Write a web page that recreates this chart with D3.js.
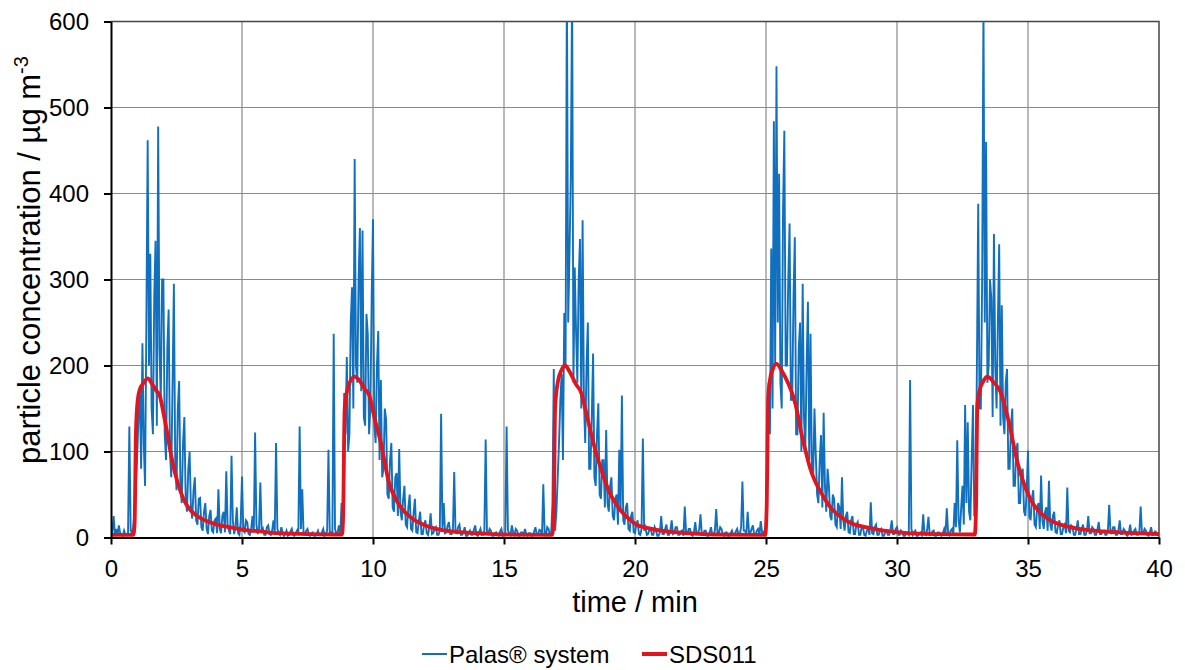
<!DOCTYPE html>
<html>
<head>
<meta charset="utf-8">
<script src="https://cdn.jsdelivr.net/npm/d3@7"></script>
<style>
  body { margin: 0; background: #fff; }
  svg { display: block; font-family: "Liberation Sans", Arial, sans-serif; }
</style>
</head>
<body>
<svg id="chart" width="1185" height="670"></svg>
<script>
// Palas readings, one every 0.05 min from 0 to 40 min (rows = one minute)
const palasStep = 0.05;
const palasValues = [
  3, 6, 25, 4, 10, 3, 14, 5, 4, 2, 8, 3, 3, 5, 129, 8, 5, 12, 30, 60,
  95, 140, 175, 80, 226, 110, 60, 250, 462, 200, 330, 150, 120, 280, 345, 130, 478, 220, 160, 300,
  300, 120, 90, 220, 265, 100, 70, 180, 295, 90, 55, 150, 182, 60, 40, 110, 140, 45, 30, 80,
  100, 35, 22, 55, 70, 20, 15, 45, 46, 12, 8, 30, 40, 10, 4, 25, 32, 8, 6, 20,
  22, 5, 56, 10, 5, 25, 30, 6, 77, 15, 8, 4, 95, 20, 4, 12, 35, 5, 3, 18,
  71, 8, 6, 20, 18, 4, 3, 10, 25, 6, 122, 15, 4, 10, 64, 6, 10, 3, 3, 12,
  14, 4, 3, 8, 20, 5, 110, 10, 5, 3, 12, 6, 2, 4, 8, 2, 3, 7, 10, 3,
  2, 5, 8, 3, 129, 10, 56, 4, 4, 8, 10, 3, 2, 5, 6, 2, 2, 4, 8, 3,
  3, 6, 10, 2, 4, 8, 102, 5, 6, 3, 237, 10, 4, 6, 14, 3, 40, 4, 168, 120,
  210, 100, 120, 250, 291, 150, 440, 200, 180, 300, 360, 170, 357, 140, 130, 260, 237, 120, 150, 280,
  370, 130, 110, 200, 240, 90, 183, 70, 80, 150, 137, 50, 45, 90, 110, 35, 30, 70, 75, 25,
  103, 30, 20, 45, 60, 15, 12, 35, 50, 10, 8, 28, 45, 6, 5, 20, 30, 4, 4, 15,
  20, 5, 3, 12, 28, 4, 5, 10, 12, 3, 3, 8, 144, 10, 40, 5, 6, 14, 18, 4,
  4, 8, 76, 6, 5, 12, 15, 3, 3, 6, 12, 2, 2, 5, 8, 3, 3, 9, 14, 3,
  2, 6, 10, 3, 3, 8, 114, 5, 4, 10, 8, 2, 2, 5, 6, 3, 2, 7, 10, 2,
  3, 5, 129, 8, 5, 3, 14, 6, 3, 10, 8, 2, 2, 6, 6, 3, 10, 4, 2, 5,
  5, 2, 2, 7, 12, 3, 3, 9, 8, 2, 62, 5, 3, 12, 10, 3, 4, 40, 196, 8,
  30, 70, 110, 160, 190, 90, 261, 200, 650, 250, 330, 420, 640, 180, 314, 240, 180, 300, 347, 150,
  369, 160, 110, 200, 250, 80, 80, 140, 214, 70, 60, 120, 156, 50, 45, 90, 90, 35, 125, 40,
  30, 60, 70, 25, 20, 45, 50, 15, 102, 30, 165, 20, 15, 35, 40, 10, 8, 25, 30, 6,
  5, 15, 20, 4, 3, 10, 115, 8, 12, 3, 4, 9, 10, 3, 3, 12, 8, 2, 2, 6,
  25, 4, 4, 10, 15, 3, 3, 8, 20, 4, 5, 12, 12, 3, 3, 7, 8, 2, 36, 5,
  4, 10, 10, 3, 2, 6, 18, 4, 5, 9, 27, 3, 3, 8, 8, 2, 2, 6, 12, 3,
  3, 8, 33, 5, 5, 12, 10, 3, 2, 6, 6, 2, 2, 5, 8, 3, 3, 7, 10, 3,
  4, 12, 65, 8, 8, 4, 30, 6, 5, 10, 14, 3, 3, 8, 10, 3, 19, 6, 5, 8,
  10, 90, 180, 120, 336, 150, 484, 200, 548, 250, 423, 180, 150, 380, 473, 200, 200, 300, 365, 160,
  160, 280, 349, 120, 120, 220, 250, 100, 295, 140, 100, 200, 274, 90, 237, 80, 70, 150, 97, 50,
  40, 90, 119, 35, 145, 60, 30, 80, 60, 25, 20, 50, 45, 15, 12, 40, 35, 10, 70, 20,
  8, 25, 30, 6, 5, 20, 25, 4, 4, 15, 18, 3, 3, 12, 12, 3, 2, 8, 10, 3,
  41, 5, 4, 12, 15, 3, 3, 8, 10, 2, 2, 6, 8, 3, 3, 9, 20, 4, 4, 10,
  12, 3, 3, 8, 6, 2, 2, 5, 5, 3, 183, 10, 3, 6, 8, 2, 2, 5, 6, 3,
  27, 4, 3, 9, 24, 3, 4, 7, 8, 2, 2, 6, 6, 3, 2, 5, 10, 3, 34, 6,
  3, 8, 10, 4, 40, 12, 113, 20, 6, 35, 60, 15, 154, 40, 134, 30, 20, 90, 154, 25,
  30, 200, 388, 150, 150, 300, 620, 250, 460, 180, 200, 300, 278, 140, 353, 200, 150, 250, 341, 130,
  270, 140, 120, 180, 196, 80, 80, 130, 150, 60, 60, 100, 110, 40, 40, 75, 80, 30, 25, 55,
  101, 25, 20, 45, 55, 15, 12, 35, 40, 10, 72, 20, 10, 30, 35, 8, 66, 15, 8, 25,
  30, 6, 5, 15, 20, 4, 4, 12, 15, 5, 58, 8, 6, 14, 12, 3, 3, 10, 20, 4,
  4, 10, 15, 3, 3, 8, 25, 5, 5, 12, 10, 3, 3, 9, 18, 4, 4, 7, 8, 3,
  3, 9, 38, 5, 5, 12, 12, 3, 3, 8, 20, 4, 4, 10, 8, 3, 2, 6, 15, 3,
  4, 8, 10, 3, 3, 6, 36, 5, 5, 10, 8, 3, 2, 6, 12, 3, 4, 7, 6, 3,
  3
];

// SDS011 readings (time in min, concentration)
const sdsTime = [
  0, 0.85, 0.9, 0.95, 1.02, 1.1, 1.25, 1.4, 1.6, 1.75, 1.85, 2.0, 2.15, 2.3, 2.55, 2.75, 2.95, 3.2, 3.45, 3.75, 4.05, 4.5, 5.05, 5.7, 6.35, 7.5, 8.5, 8.82,
  8.86, 8.92, 9.05, 9.3, 9.5, 9.7, 9.85, 10.05, 10.3, 10.6, 11.0, 11.5, 12.0, 13.0, 14.0, 15.0, 16.84,
  16.9, 16.95, 17.05, 17.2, 17.33, 17.5, 17.75, 17.95, 18.1, 18.3, 18.5, 18.7, 18.9, 19.05, 19.3, 19.55, 19.8, 20.05, 20.5, 21.2, 22.0, 23.0, 24.97,
  25.03, 25.08, 25.15, 25.25, 25.4, 25.6, 25.85, 26.05, 26.2, 26.35, 26.5, 26.67, 26.85, 27.05, 27.3, 27.55, 27.9, 28.3, 28.8, 29.3, 30.3, 31.5, 32.97,
  33.02, 33.06, 33.13, 33.3, 33.45, 33.7, 33.97, 34.12, 34.28, 34.45, 34.6, 34.8, 34.98, 35.2, 35.5, 35.85, 36.25, 36.8, 37.5, 38.5, 40
];
const sdsValues = [
  3, 3, 15, 120, 160, 172, 180, 185, 177, 170, 166, 145, 121, 95, 63, 46, 35, 27, 22, 18, 15, 12, 9, 7, 5, 4, 3.5, 3.5,
  25, 150, 175, 187, 182, 172, 166, 140, 110, 65, 38, 22, 14, 7, 5, 3.5, 3,
  30, 150, 180, 195, 200, 193, 178, 168, 150, 124, 100, 80, 62, 51, 38, 28, 21, 15, 11, 7, 5, 3.5, 3,
  40, 160, 183, 195, 202, 194, 179, 163, 145, 121, 102, 82, 67, 55, 42, 32, 23, 16, 12, 9, 5.5, 4, 3.5,
  40, 150, 168, 182, 187, 180, 168, 152, 133, 108, 87, 67, 52, 39, 28, 20, 15, 11, 8, 6, 4
];

const xTicks = [0, 5, 10, 15, 20, 25, 30, 35, 40];
const yTicks = [0, 100, 200, 300, 400, 500, 600];
const seriesNames = ["Palas® system", "SDS011"];
const seriesColors = ["#1170bd", "#e2141d"];

const palas = palasValues.map((v, i) => ({ t: i * palasStep, v }));
const sds = sdsTime.map((t, i) => ({ t, v: sdsValues[i] }));

const svg = d3.select("#chart");
const margin = { left: 111, right: 26, top: 21.5, bottom: 132.5 };
const W = 1185, H = 670;
const plotW = W - margin.left - margin.right;
const plotH = H - margin.top - margin.bottom;

const x = d3.scaleLinear().domain([0, 40]).range([0, plotW]);
const y = d3.scaleLinear().domain([0, 600]).range([plotH, 0]);

const g = svg.append("g").attr("transform", `translate(${margin.left},${margin.top})`);

// grid
g.append("g").selectAll("line")
  .data(xTicks.filter(d => d > 0 && d < 40))
  .join("line")
  .attr("x1", d => x(d)).attr("x2", d => x(d))
  .attr("y1", 0).attr("y2", plotH)
  .attr("stroke", "#8a8a8a").attr("stroke-width", 1.2);
g.append("g").selectAll("line")
  .data(yTicks.filter(d => d > 0 && d < 600))
  .join("line")
  .attr("x1", 0).attr("x2", plotW)
  .attr("y1", d => y(d)).attr("y2", d => y(d))
  .attr("stroke", "#8a8a8a").attr("stroke-width", 1.2);

// top and right frame
g.append("path")
  .attr("d", `M0,${y(600)}H${x(40)}V${y(0)}`)
  .attr("fill", "none").attr("stroke", "#444").attr("stroke-width", 1.5);

g.append("clipPath").attr("id", "plotClip")
  .append("rect").attr("width", plotW).attr("height", plotH);

const line = d3.line().x(d => x(d.t)).y(d => y(d.v));

const plot = g.append("g").attr("clip-path", "url(#plotClip)");
plot.append("path")
  .datum(palas)
  .attr("d", line)
  .attr("fill", "none")
  .attr("stroke", seriesColors[0])
  .attr("stroke-width", 1.9)
  .attr("stroke-linejoin", "miter");

plot.append("path")
  .datum(sds)
  .attr("d", line.curve(d3.curveMonotoneX))
  .attr("fill", "none")
  .attr("stroke", seriesColors[1])
  .attr("stroke-width", 3.8)
  .attr("stroke-linejoin", "round");

// axes
const xAxis = g.append("g")
  .attr("transform", `translate(0,${plotH})`)
  .call(d3.axisBottom(x).tickValues(xTicks).tickSize(7).tickPadding(15).tickSizeOuter(0));
const yAxis = g.append("g")
  .call(d3.axisLeft(y).tickValues(yTicks).tickSize(7).tickPadding(15).tickSizeOuter(0));

[xAxis, yAxis].forEach(a => {
  a.select(".domain").attr("stroke", "#000").attr("stroke-width", 2);
  a.selectAll(".tick line").attr("stroke", "#000").attr("stroke-width", 2);
  a.selectAll(".tick text")
    .attr("fill", "#000")
    .style("font-size", "24px")
    .style("font-family", "Liberation Sans, Arial, sans-serif");
});

// axis titles
svg.append("text")
  .attr("x", margin.left + x(20))
  .attr("y", 612)
  .attr("text-anchor", "middle")
  .style("font-size", "29px")
  .text("time / min");

const yTitle = svg.append("text")
  .attr("transform", "translate(40,260) rotate(-90)")
  .attr("text-anchor", "middle")
  .style("font-size", "31px");
yTitle.append("tspan").text("particle concentration / µg m");
yTitle.append("tspan").attr("dy", -12).style("font-size", "20px").text("-3");

// legend
const legend = svg.append("g").attr("transform", "translate(422,654)");
const items = [{ x: 0, w: 25, sw: 2 }, { x: 220, w: 25, sw: 4 }];
items.forEach((it, i) => {
  legend.append("line")
    .attr("x1", it.x).attr("x2", it.x + it.w)
    .attr("y1", 0).attr("y2", 0)
    .attr("stroke", seriesColors[i]).attr("stroke-width", it.sw);
  legend.append("text")
    .attr("x", it.x + it.w + 2)
    .attr("y", 8.5)
    .style("font-size", "24px")
    .text(seriesNames[i]);
});
</script>
</body>
</html>
